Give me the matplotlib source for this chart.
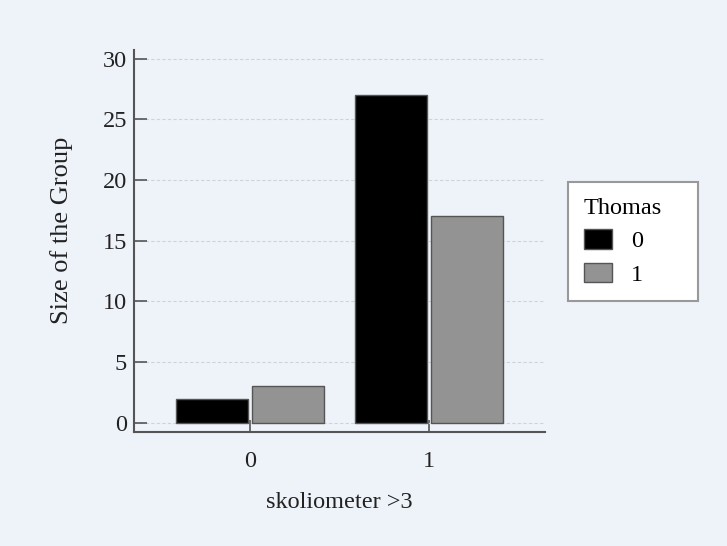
import numpy as np
import matplotlib
matplotlib.use("Agg")
import matplotlib.pyplot as plt

# grouped counts: skoliometer >3 (x) split by Thomas (hue)
categories = ["0", "1"]
thomas_levels = ["0", "1"]
counts_thomas0 = [2, 27]
counts_thomas1 = [3, 17]

bg = "#eef2f9"
plt.rcParams["font.family"] = ["Liberation Serif", "DejaVu Serif"]
fs = 17.5

fig = plt.figure(figsize=(7.27, 5.46), dpi=100, facecolor=bg)
ax = fig.add_axes([0.1843, 0.2088, 0.5654, 0.6996], facecolor=bg)

x = np.arange(len(categories))
w = 0.40
gap = 0.011
ax.bar(x - w / 2 - gap, counts_thomas0, width=w, color="black", edgecolor="#555555",
       linewidth=1.0, label=thomas_levels[0], zorder=3)
ax.bar(x + w / 2 + gap, counts_thomas1, width=w, color="#939393", edgecolor="#555555",
       linewidth=1.0, label=thomas_levels[1], zorder=3)

ax.set_xlim(-0.648, 1.648)
ax.set_ylim(-0.75, 30.7)
ax.set_yticks([0, 5, 10, 15, 20, 25, 30])
ax.set_xticks(x)
ax.set_xticklabels(categories)
ax.yaxis.grid(True, linestyle=(0, (3, 2)), color="#cfd3d8", linewidth=0.8, zorder=0)

for side in ["top", "right"]:
    ax.spines[side].set_visible(False)
for side in ["left", "bottom"]:
    ax.spines[side].set_color("#555555")
    ax.spines[side].set_linewidth(1.5)

ax.tick_params(axis="both", direction="in", length=9, width=1.2, color="#555555",
               labelsize=fs, labelcolor="#222222")
ax.tick_params(axis="x", pad=14)
ax.tick_params(axis="y", pad=5)

ax.set_xlabel("skoliometer >3", fontsize=fs, labelpad=14, color="#222222")
ax.set_ylabel("Size of the Group", fontsize=19, color="#222222")
ax.yaxis.set_label_coords(-0.148, 0.529)

# legend box placed to the right of the plot, fixed width
leg = ax.legend(title="Thomas", loc="upper left", mode="expand",
                bbox_to_anchor=(1.056, 0.654, 0.316, 0.0),
                fontsize=fs, title_fontsize=fs, frameon=True, fancybox=False,
                edgecolor="#999999", facecolor="white", framealpha=1,
                handlelength=1.15, handleheight=0.85, borderpad=0.65,
                labelspacing=0.42, handletextpad=0.8, alignment="left",
                borderaxespad=0)
leg.get_frame().set_linewidth(1.5)

fig.savefig("out.png", dpi=100, facecolor=bg)
